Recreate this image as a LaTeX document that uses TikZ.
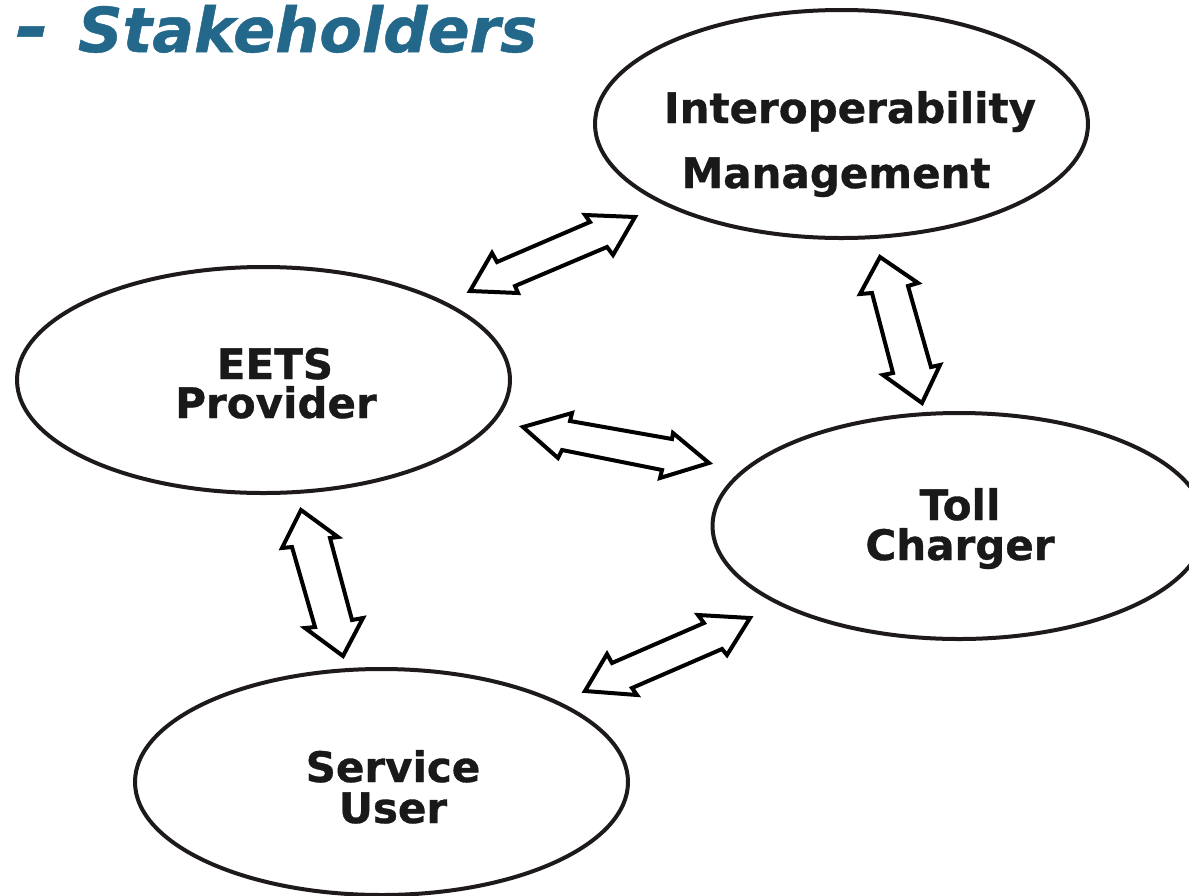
\documentclass[tikz,border=0pt]{standalone}
\usepackage{fontspec}
\usepackage{graphicx}
\setmainfont{DejaVu Sans}
\newfontfamily\heavyfont{DejaVu Sans}[BoldFeatures={FakeBold=0.8},BoldItalicFeatures={FakeBold=0.8}]
\usetikzlibrary{shapes.geometric}
\definecolor{titleteal}{RGB}{35,104,138}
\definecolor{inkline}{RGB}{30,26,26}
\definecolor{inktext}{RGB}{25,25,25}
\begin{document}
\begin{tikzpicture}[x=0.5pt,y=-0.5pt,
  stake/.style={ellipse,draw=inkline,line width=2pt,inner sep=0pt,minimum width=246.5pt,minimum height=113pt},
  lbl/.style={anchor=base,inner sep=0pt,text=inktext,font=\fontsize{21pt}{25pt}\selectfont\heavyfont\bfseries},
  blockarrow/.style={draw=black,line width=2pt,line join=miter,fill=white}]
\useasboundingbox (0,0) rectangle (1189,895);
\clip (0,0) rectangle (1189,895);
\fill[white] (0,0) rectangle (1189,895);

% title
\node[anchor=base west,inner sep=0pt,text=titleteal,font=\fontsize{31pt}{36pt}\selectfont\heavyfont\bfseries\itshape] (title) at (15,52) {\scalebox{1.3}[1.15]{-}\hspace{0.47em}Stakeholders};

% stakeholders
\node[stake,minimum height=114pt] (im) at (841.5,124) {};
\node[stake] (ep) at (263.5,380) {};
\node[stake] (tc) at (959,526) {};
\node[stake] (su) at (381.5,782) {};

\node[lbl] (im1) at (850,123) {Interoperability};
\node[lbl] (im2) at (836,188) {Management};
\node[lbl] (ep1) at (275,379) {EETS};
\node[lbl] (ep2) at (276,418) {Provider};
\node[lbl] (tc1) at (960,520) {Toll};
\node[lbl] (tc2) at (960,560) {Charger};
\node[lbl] (su1) at (393,782) {Service};
\node[lbl] (su2) at (393,823) {User};

% double block arrows
% EETS Provider <-> Interoperability Management
\draw[blockarrow] (635,217) -- (585,215) -- (590,222) -- (497,262) -- (492,253) -- (470,291) -- (518,293) -- (515,286) -- (607,247) -- (613,255) -- cycle;
% Interoperability Management <-> Toll Charger
\draw[blockarrow] (880,257) -- (918,283) -- (908,286) -- (931,367) -- (940,365) -- (922,403) -- (883,375) -- (893,373) -- (872,293) -- (860,294) -- cycle;
% EETS Provider <-> Toll Charger
\draw[blockarrow] (523,427) -- (572,413) -- (570,421) -- (672,439) -- (673,433) -- (709,463) -- (660,478) -- (662,470) -- (562,450) -- (558,458) -- cycle;
% EETS Provider <-> Service User
\draw[blockarrow] (301,510) -- (338,537) -- (330,538) -- (352,620) -- (363,618) -- (343,656) -- (305,628) -- (315,627) -- (292,547) -- (282,548) -- cycle;
% Service User <-> Toll Charger
\draw[blockarrow] (750,618) -- (698,615) -- (704,623) -- (612,663) -- (607,654) -- (585,691) -- (637,695) -- (632,688) -- (722,649) -- (727,655) -- cycle;
\end{tikzpicture}
\end{document}
